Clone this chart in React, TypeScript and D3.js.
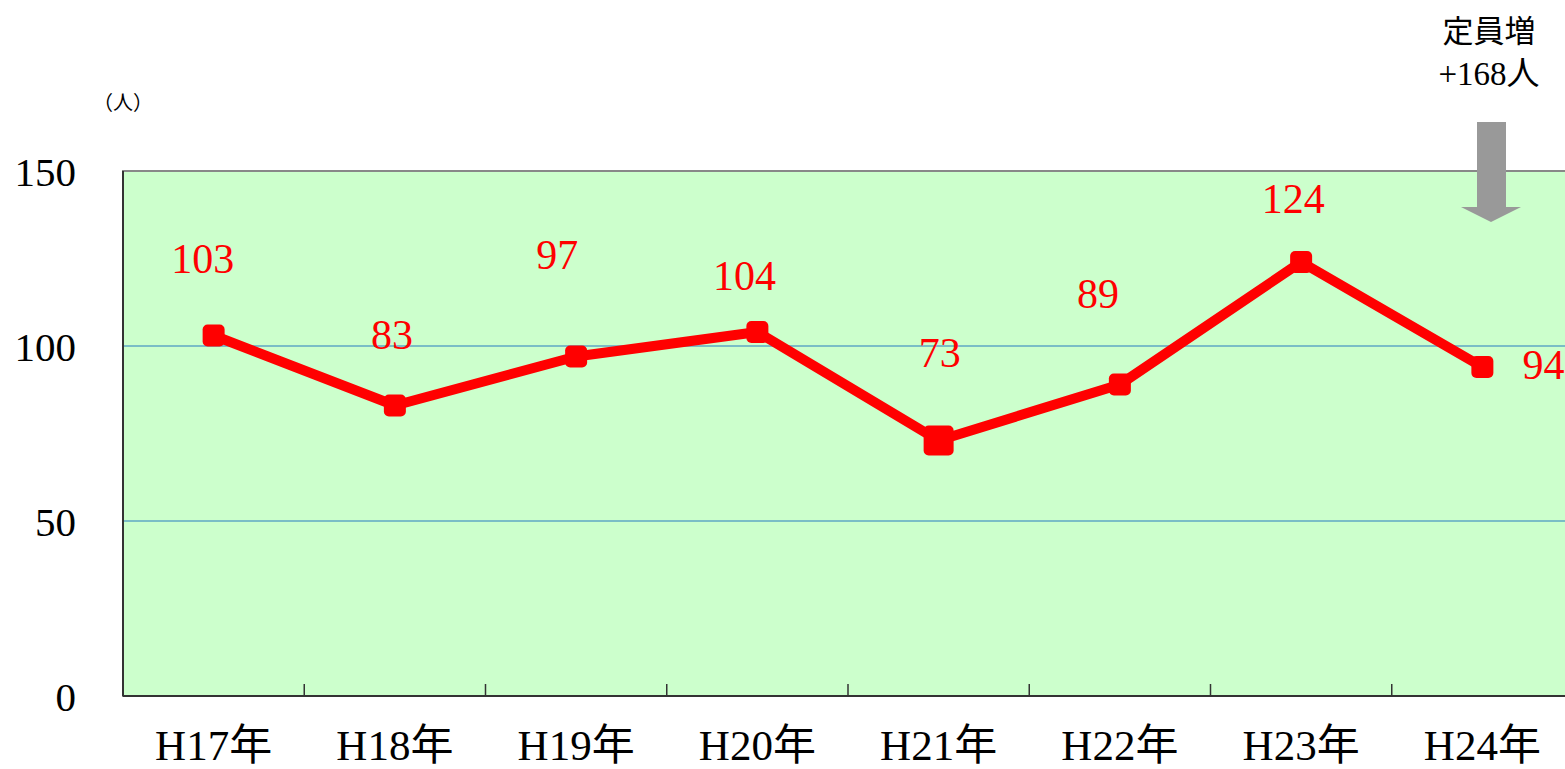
import React from 'react';
import * as d3 from 'd3';

const years = ['H17年', 'H18年', 'H19年', 'H20年', 'H21年', 'H22年', 'H23年', 'H24年'];
const counts = [103, 83, 97, 104, 73, 89, 124, 94];
const yTicks = [0, 50, 100, 150];
// label offsets (dx, dy of the text baseline relative to the marker)
const labelDx = [-11, -3, -19, -13, 1, -22, -8, 61];
const labelDy = [-63, -57, -88, -42, -74, -77, -49, 12];
const markerSize = [22, 22, 22, 22, 30, 22, 22, 22];

const W = 1565;
const H = 769;
const margin = { top: 171, right: -8, bottom: 73, left: 123 };

const App = () => {
  const innerW = W - margin.left - margin.right;
  const innerH = H - margin.top - margin.bottom;

  const x = d3.scaleBand().domain(years).range([0, innerW]);
  const y = d3.scaleLinear().domain([0, 150]).range([innerH, 0]);
  const cx = (yr: string) => x(yr)! + x.bandwidth() / 2;

  const line = d3.line<number>()
    .x((d, i) => cx(years[i]))
    .y(d => y(d));

  const serif = '"Liberation Serif", "Noto Sans CJK JP", serif';
  const gothic = '"Noto Sans CJK JP", "Noto Sans", sans-serif';

  return (
    <div style={{ position: 'absolute', left: 0, top: 0 }}>
      <svg width={W} height={H} style={{ display: 'block', background: 'white' }}>
        <g transform={`translate(${margin.left},${margin.top})`}>
          <rect x={0} y={0} width={innerW} height={innerH} fill="#ccffcc" stroke="#888" strokeWidth={2} />
          {yTicks.filter(t => t > 0 && t < 150).map(t => (
            <line key={t} x1={0} x2={innerW} y1={y(t)} y2={y(t)} stroke="#5fa7c4" strokeWidth={1.5} />
          ))}
          {/* axes */}
          <line x1={0} x2={0} y1={0} y2={innerH} stroke="#333" strokeWidth={2} />
          <line x1={0} x2={innerW} y1={innerH} y2={innerH} stroke="#333" strokeWidth={2} />
          {years.slice(1).map(yr => (
            <line key={yr} x1={x(yr)} x2={x(yr)} y1={innerH - 12} y2={innerH} stroke="#333" strokeWidth={1.5} />
          ))}
          {yTicks.map(t => (
            <text key={t} x={-47} y={y(t) + 15} textAnchor="end"
              fontFamily={serif} fontSize={41} fill="#000">{t}</text>
          ))}
          {years.map(yr => (
            <text key={yr} x={cx(yr)} y={innerH + 64} textAnchor="middle"
              fontFamily={serif} fontSize={43} fill="#000">{yr}</text>
          ))}
          <path d={line(counts) || ''} fill="none" stroke="#ff0000" strokeWidth={10} strokeLinejoin="round" />
          {counts.map((v, i) => {
            const s = markerSize[i];
            return (
              <rect key={i} x={cx(years[i]) - s / 2} y={y(v) - s / 2}
                width={s} height={s} rx={5} fill="#ff0000" />
            );
          })}
          {counts.map((v, i) => (
            <text key={i} x={cx(years[i]) + labelDx[i]} y={y(v) + labelDy[i]}
              textAnchor="middle" fontFamily={serif} fontSize={42} fill="#ff0000">{v}</text>
          ))}
        </g>
        <text x={123} y={110} textAnchor="middle" fontFamily={serif} fontSize={20}>（人）</text>
        <text x={1489} y={42} textAnchor="middle" fontFamily={gothic} fontSize={31}>定員増</text>
        <text x={1489} y={85} textAnchor="middle" fontFamily={serif} fontSize={33}>+168人</text>
        <rect x={1477} y={122} width={29} height={86} fill="#999" />
        <polygon points="1461,207 1521,207 1491,222" fill="#999" />
      </svg>
    </div>
  );
};

export default App;
